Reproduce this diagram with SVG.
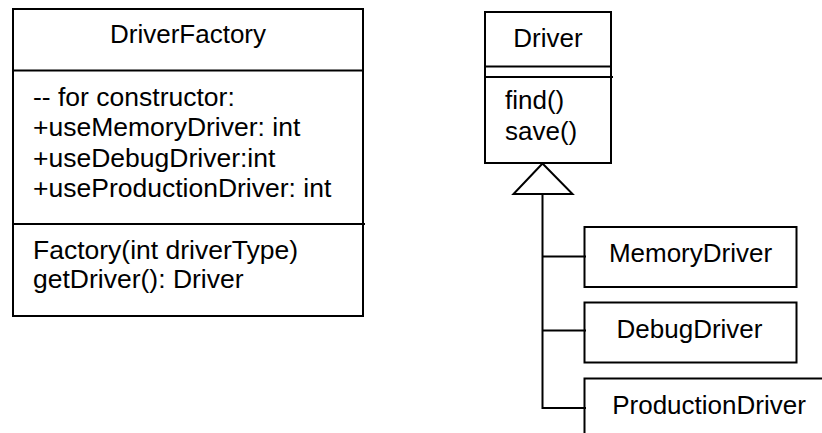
<svg xmlns="http://www.w3.org/2000/svg" width="822" height="433" viewBox="0 0 822 433">
  <style>
    .box { fill: #ffffff; stroke: #000000; stroke-width: 2; }
    .ln { fill: none; stroke: #000000; stroke-width: 2; }
    .t { font-family: "Liberation Sans", Arial, sans-serif; font-size: 26px; fill: #000000; }
    .m { font-size: 26.5px; }
    .c { text-anchor: middle; }
  </style>
  <rect width="822" height="433" fill="#ffffff"/>

  <g id="DriverFactory">
    <rect class="box" x="13" y="9" width="350" height="307"/>
    <line class="ln" x1="13" y1="70.5" x2="363" y2="70.5"/>
    <line class="ln" x1="13" y1="224" x2="365" y2="224"/>
    <text class="t c" x="188" y="42.5">DriverFactory</text>
    <text class="t m" x="33" y="105.5">-- for constructor:</text>
    <text class="t m" x="33" y="136">+useMemoryDriver: int</text>
    <text class="t m" x="33" y="166.5">+useDebugDriver:int</text>
    <text class="t m" x="33" y="197">+useProductionDriver: int</text>
    <text class="t m" x="33" y="259">Factory(int driverType)</text>
    <text class="t m" x="33" y="288">getDriver(): Driver</text>
  </g>

  <g id="Driver">
    <rect class="box" x="485" y="12" width="126" height="151"/>
    <line class="ln" x1="485" y1="66.5" x2="611" y2="66.5"/>
    <line class="ln" x1="485" y1="77" x2="613" y2="77"/>
    <text class="t c" x="548" y="46.5">Driver</text>
    <text class="t" x="505" y="108.5">find()</text>
    <text class="t" x="505" y="139.5">save()</text>
  </g>

  <g id="MemoryDriver">
    <rect class="box" x="584.5" y="227" width="212" height="60"/>
    <text class="t c" x="690.5" y="261.5">MemoryDriver</text>
  </g>

  <g id="DebugDriver">
    <rect class="box" x="584.5" y="302.5" width="212" height="60"/>
    <text class="t c" x="689.5" y="337.5">DebugDriver</text>
  </g>

  <g id="ProductionDriver">
    <path class="ln" d="M584.5,440 V378.5 H822"/>
    <text class="t c" x="709" y="413.5">ProductionDriver</text>
  </g>

  <g id="connectors">
    <polygon class="ln" fill="#ffffff" points="542.5,163.5 513.5,194 572.5,194"/>
    <path class="ln" d="M542.5,194 V408 H586"/>
    <line class="ln" x1="542.5" y1="256.5" x2="586" y2="256.5"/>
    <line class="ln" x1="542.5" y1="330.5" x2="586" y2="330.5"/>
  </g>
</svg>
